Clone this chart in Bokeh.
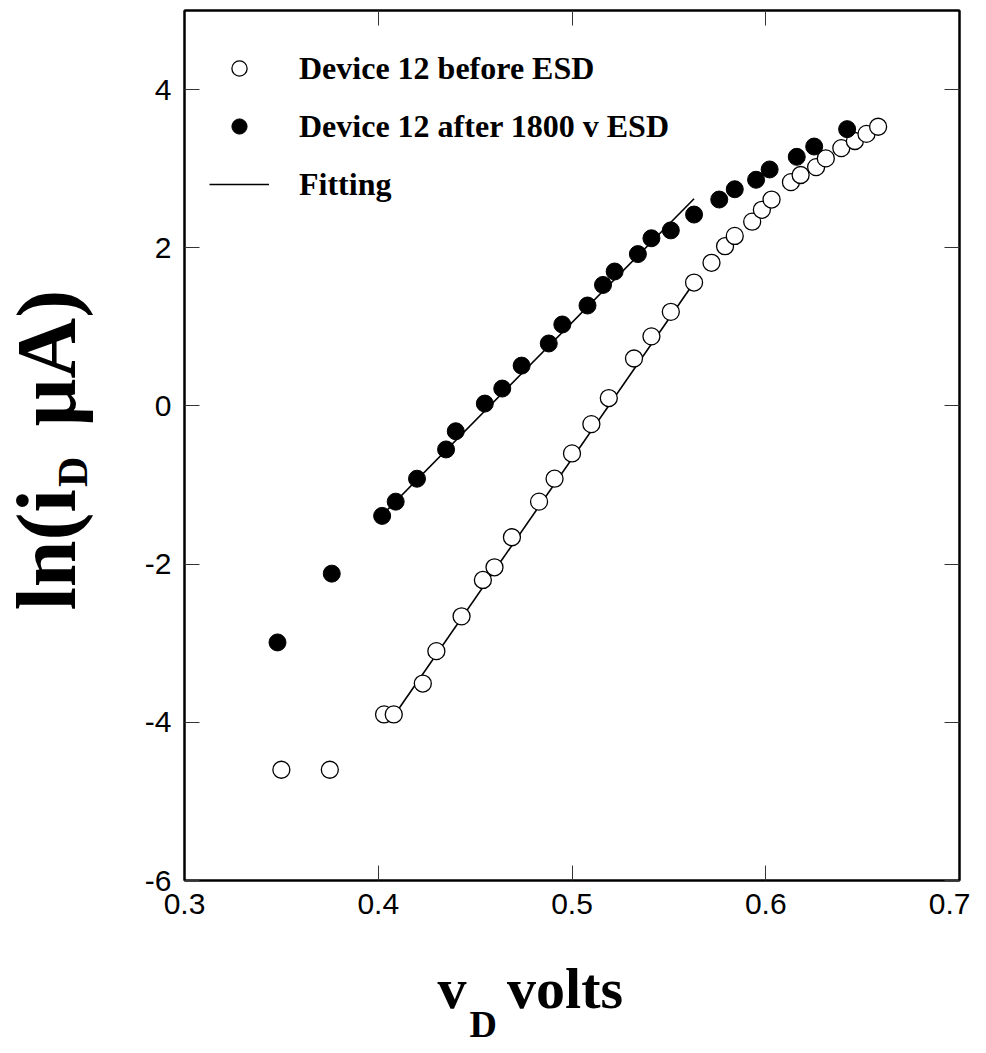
from bokeh.plotting import figure
from bokeh.models import (LinearAxis, FixedTicker, Legend, LegendItem, Label, Range1d)
from bokeh.embed import file_html
from bokeh.resources import INLINE
import math

# ---------------- data ----------------
vd_before = [0.350, 0.375, 0.403, 0.408, 0.423, 0.430, 0.443, 0.454, 0.460, 0.469,
             0.483, 0.491, 0.500, 0.510, 0.519, 0.532, 0.541, 0.551, 0.563, 0.572,
             0.579, 0.584, 0.593, 0.598, 0.603, 0.613, 0.618, 0.626, 0.631, 0.639,
             0.646, 0.652, 0.658]
ln_before = [-4.60, -4.60, -3.90, -3.90, -3.51, -3.10, -2.66, -2.20, -2.04, -1.66,
             -1.21, -0.92, -0.60, -0.23, 0.10, 0.60, 0.88, 1.19, 1.56, 1.81,
             2.02, 2.15, 2.33, 2.48, 2.61, 2.83, 2.92, 3.02, 3.13, 3.26,
             3.35, 3.44, 3.53]

vd_after = [0.348, 0.376, 0.402, 0.409, 0.420, 0.435, 0.440, 0.455, 0.464, 0.474,
            0.488, 0.495, 0.508, 0.516, 0.522, 0.534, 0.541, 0.551, 0.563, 0.576,
            0.584, 0.595, 0.602, 0.616, 0.625, 0.642]
ln_after = [-2.99, -2.12, -1.39, -1.21, -0.92, -0.55, -0.32, 0.03, 0.22, 0.51,
            0.79, 1.03, 1.27, 1.53, 1.70, 1.92, 2.12, 2.22, 2.42, 2.61,
            2.74, 2.86, 2.99, 3.15, 3.28, 3.50]

fit_after_vd = [0.400, 0.563]
fit_after_ln = [-1.43, 2.62]
fit_before_vd = [0.408, 0.563]
fit_before_ln = [-3.92, 1.56]

x_ticks = [0.3, 0.4, 0.5, 0.6, 0.7]
y_ticks = [-6, -4, -2, 0, 2, 4]
y_tick_labels = ["-6", "-4", "-2", "0", "2", "4"]

label_before = "Device 12 before ESD"
label_after = "Device 12 after 1800 v ESD"
label_fit = "Fitting"

NB = "\u00a0"
y_title_main = "ln(i" + NB * 3 + "\u03bcA)"
y_title_sub = "D"
x_title_main = "v" + NB * 2 + "\u2009" + "volts"
x_title_sub = "D"

# ---------------- layout ----------------
X0, X1 = 0.3, 0.7
Y0, Y1 = -6, 5
W, H = 970, 1050
BL, BR, BT = 184, 11, 10
BB = 170
FW = W - BL - BR
FH = H - BT - BB
PXX = FW / (X1 - X0)
PXY = FH / (Y1 - Y0)


def dx(px):
    return px / PXX


def dy(px):
    return px / PXY


p = figure(width=W, height=H, x_range=Range1d(X0, X1), y_range=Range1d(Y0, Y1),
           output_backend="svg", toolbar_location=None,
           min_border_left=BL, min_border_right=BR, min_border_top=BT,
           min_border_bottom=BB)
p.background_fill_color = "white"
p.border_fill_color = "white"
p.grid.visible = False
p.outline_line_color = "black"
p.outline_line_width = 2

p.add_layout(LinearAxis(), "right")
p.add_layout(LinearAxis(), "above")

for ax in p.xaxis:
    ax.ticker = FixedTicker(ticks=x_ticks)
for ax in p.yaxis:
    ax.ticker = FixedTicker(ticks=y_ticks)

for ax in p.axis:
    ax.axis_line_color = "black"
    ax.axis_line_width = 2
    ax.major_tick_in = 15
    ax.major_tick_out = 0
    ax.major_tick_line_color = "#333333"
    ax.major_tick_line_width = 1
    ax.minor_tick_line_color = None
    ax.major_label_text_font = "Liberation Sans"
    ax.major_label_text_font_size = "30px"
    ax.major_label_text_color = "black"

p.above[0].major_label_overrides = {t: "" for t in x_ticks}
p.above[0].major_label_standoff = 0
p.right[0].major_label_overrides = {t: "" for t in y_ticks}
p.right[0].major_label_standoff = 0
p.below[0].major_label_standoff = 13
p.left[0].major_label_standoff = 13
p.left[0].major_label_overrides = dict(zip(y_ticks, y_tick_labels))

# fit lines
fa = p.line(fit_after_vd, fit_after_ln, line_color="black", line_width=1.6)
fb = p.line(fit_before_vd, fit_before_ln, line_color="black", line_width=1.6)

# data
rb = p.scatter(vd_before, ln_before, marker="circle", size=17, fill_color="white",
               line_color="black", line_width=1.3)
ra = p.scatter(vd_after, ln_after, marker="circle", size=17, fill_color="black",
               line_color="black", line_width=1)

legend = Legend(items=[LegendItem(label=label_before, renderers=[rb]),
                       LegendItem(label=label_after, renderers=[ra]),
                       LegendItem(label=label_fit, renderers=[fa])],
                location=(25, 677), orientation="vertical",
                glyph_width=60, glyph_height=38, label_standoff=30, spacing=20,
                padding=0, margin=0, border_line_color=None,
                background_fill_alpha=0,
                label_text_font="Liberation Serif", label_text_font_style="bold",
                label_text_font_size="32px", label_text_color="black")
p.add_layout(legend, "center")

# ---------------- axis titles (with subscripts) ----------------
SERIF = "Liberation Serif"


def add_text(side, x, y, text, size, angle=0.0):
    p.add_layout(Label(x=x, y=y, text=text, angle=angle, text_font=SERIF,
                       text_font_style="bold", text_font_size=f"{size}px",
                       text_align="left", text_baseline="alphabetic",
                       text_color="black"), side)


yl_size, yl_sub = 84, 42
add_text("left", X0 - dx(138), Y0 + dy(270), y_title_main, yl_size, math.pi / 2)
add_text("left", X0 - dx(112), Y0 + dy(270 + 1.445 * yl_size + 2), y_title_sub, yl_sub,
         math.pi / 2)

xl_size, xl_sub = 58, 38
add_text("below", X0 + dx(253), Y0 - dy(108), x_title_main, xl_size)
add_text("below", X0 + dx(285), Y0 - dy(143), x_title_sub, xl_sub)

open("out.html", "w").write(file_html(p, INLINE))
